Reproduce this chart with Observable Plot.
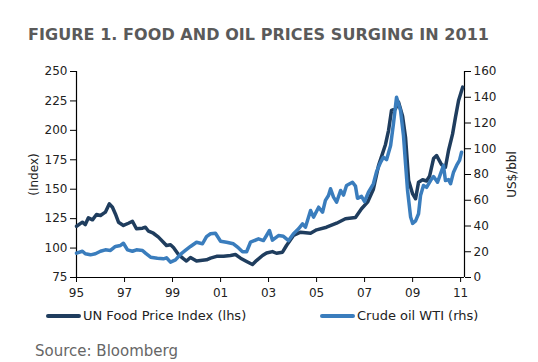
<!DOCTYPE html>
<html><head><meta charset="utf-8">
<script src="https://cdn.jsdelivr.net/npm/d3@7"></script>
<script src="https://cdn.jsdelivr.net/npm/@observablehq/plot@0.6"></script>
<style>
html,body{margin:0;padding:0;background:#fff;}
body{width:538px;height:362px;overflow:hidden;position:relative;font-family:"DejaVu Sans",Verdana,sans-serif;}
#title{position:absolute;left:28px;top:25px;line-height:20px;font-size:16px;font-weight:bold;color:#5a5a5a;white-space:nowrap;letter-spacing:0.05px;}
#chart{position:absolute;left:0;top:50px;}
.leg{position:absolute;top:307px;line-height:18px;font-size:13px;color:#222;white-space:nowrap;}
.sw{display:inline-block;width:35px;height:4px;border-radius:2px;vertical-align:middle;margin-right:2px;position:relative;top:-1px;}
#source{position:absolute;left:35px;top:342px;line-height:18px;font-size:15px;color:#666;white-space:nowrap;}
</style>
</head><body>
<div id="title">FIGURE 1. FOOD AND OIL PRICES SURGING IN 2011</div>
<div id="chart"></div>
<div class="leg" style="left:46px"><span class="sw" style="background:#1f3d5e"></span>UN Food Price Index (lhs)</div>
<div class="leg" style="left:320px"><span class="sw" style="background:#3a7dbd"></span>Crude oil WTI (rhs)</div>
<div id="source">Source: Bloomberg</div>
<script>
const foodDates = ["1995-01-01","1995-04-01","1995-05-15","1995-07-01","1995-09-01","1995-11-01","1996-01-01","1996-03-15","1996-05-15","1996-07-01","1996-08-15","1996-10-01","1996-12-15","1997-03-01","1997-05-01","1997-07-01","1997-10-01","1997-11-15","1998-01-01","1998-03-15","1998-06-01","1998-08-15","1998-10-01","1998-12-01","1999-01-15","1999-04-01","1999-06-15","1999-08-01","1999-10-01","2000-01-01","2000-03-01","2000-06-01","2000-08-01","2000-11-01","2001-02-15","2001-06-01","2001-08-15","2001-11-01","2002-02-01","2002-05-01","2002-07-01","2002-10-01","2002-12-01","2003-03-01","2003-05-01","2003-08-01","2003-10-01","2004-01-15","2004-05-01","2004-10-01","2005-01-01","2005-06-01","2005-11-01","2006-03-15","2006-08-15","2006-11-15","2007-02-15","2007-05-15","2007-08-01","2007-11-15","2008-01-01","2008-02-15","2008-04-15","2008-06-01","2008-08-01","2008-09-15","2008-11-01","2009-01-01","2009-02-15","2009-04-01","2009-06-01","2009-08-01","2009-09-15","2009-11-15","2010-01-01","2010-03-15","2010-05-15","2010-07-01","2010-09-01","2010-10-15","2010-12-01","2011-02-01"];
const foodIndex = [118.6,122,120,125.7,124,128.5,127.7,130.5,137.6,134.7,129,122,119.2,121.1,122.8,116.4,116.9,117.7,114.3,112.6,109.3,105,102.2,102.8,100.5,94.5,91,89,92,89,89.4,90,91.5,93,93,93.7,94.5,91.4,88.6,86,89.4,93.7,95.8,97,95.6,96.5,102.2,110.7,113.5,112.6,115.5,117.7,121.1,124.9,126,133.4,139,150,170,188,200,217,218.3,224,212,194,157.4,146,141.9,156,158,157,161,176,178.6,171,168.7,182.9,197,211.2,225.4,236.7];

const oilDates = ["1995-01-01","1995-04-01","1995-05-15","1995-08-01","1995-10-15","1996-01-01","1996-03-15","1996-06-01","1996-08-15","1996-11-01","1996-12-15","1997-02-15","1997-05-01","1997-07-01","1997-10-01","1997-11-15","1998-02-01","1998-05-15","1998-08-15","1998-10-01","1998-12-01","1999-02-15","1999-05-01","1999-07-15","1999-10-01","2000-01-01","2000-04-01","2000-06-01","2000-08-01","2000-10-15","2001-01-01","2001-04-01","2001-07-15","2001-10-01","2001-12-01","2002-02-01","2002-04-01","2002-08-01","2002-10-15","2002-12-01","2003-01-15","2003-03-01","2003-06-01","2003-08-15","2003-11-01","2004-01-15","2004-04-01","2004-06-01","2004-07-15","2004-10-01","2004-11-15","2005-02-01","2005-04-01","2005-05-15","2005-07-01","2005-08-01","2005-09-15","2005-11-01","2006-01-01","2006-02-15","2006-04-01","2006-07-01","2006-08-15","2006-09-15","2006-11-15","2007-01-01","2007-03-01","2007-05-15","2007-07-01","2007-09-01","2007-10-15","2007-12-01","2008-02-01","2008-03-15","2008-05-01","2008-07-01","2008-08-15","2008-09-15","2008-10-15","2008-12-01","2009-01-01","2009-02-15","2009-04-01","2009-05-01","2009-06-15","2009-08-01","2009-10-01","2009-11-15","2010-01-15","2010-03-01","2010-04-15","2010-05-15","2010-07-01","2010-08-01","2010-09-15","2010-11-01","2010-12-15","2011-01-15"];
const oilPrice = [18.9,20.4,18.4,17.6,18.4,20.4,21.5,21,24.1,24.9,26.6,21.5,20.4,21.5,21,18.9,15.8,15,14.5,15.3,11.9,13.7,17.9,21,24.1,27.4,26.2,31.8,34,34.4,28.2,27.4,26.2,23,20,20,27.4,30,28.7,32.6,36.5,29,32.6,32,28.7,34,37.8,41.7,39.1,52.1,46.9,54.6,50.7,59.9,63.7,68.9,62.4,58.5,67.6,64,71.5,74,71,61.5,63,59,66.3,72.8,82,89.5,93.4,91.5,102.5,119.4,140,129.7,110,88.3,68,47,42,44,49.5,63.7,71.5,70,75.3,78.4,74,80.5,87,75.3,76,72.8,81.8,87,90.9,97.3];

const xTickDates = ["1995-01-01","1997-01-01","1999-01-01","2001-01-01","2003-01-01","2005-01-01","2007-01-01","2009-01-01","2011-01-01"];
const xTickLabels = ["95","97","99","01","03","05","07","09","11"];
const leftTicks = [75,100,125,150,175,200,225,250];
const rightTicks = [0,20,40,60,80,100,120,140,160];

const parse = d3.utcParse("%Y-%m-%d");
const toLeft = p => 75 + p * 175 / 160;
const food = foodDates.map((d, i) => ({date: parse(d), value: foodIndex[i]}));
const oil = oilDates.map((d, i) => ({date: parse(d), value: toLeft(oilPrice[i])}));
const xTicks = xTickDates.map(parse);
const xLabel = new Map(xTicks.map((d, i) => [+d, xTickLabels[i]]));
const rightLabel = new Map(rightTicks.map(p => [toLeft(p), String(p)]));
const x0 = parse("1995-01-01"), x1 = parse("2011-03-01");

const chart = Plot.plot({
  width: 538, height: 255,
  marginTop: 21, marginBottom: 28, marginLeft: 76, marginRight: 74,
  style: {fontFamily: "DejaVu Sans, Verdana, sans-serif", fontSize: "12px", color: "#222", background: "transparent", overflow: "visible"},
  x: {type: "utc", domain: [x0, x1]},
  y: {domain: [75, 250]},
  marks: [
    Plot.axisX({ticks: xTicks, tickFormat: d => xLabel.get(+d), tickSize: 5, tickPadding: 6, label: null, stroke: "#000", fill: "#222"}),
    Plot.axisY({anchor: "left", ticks: leftTicks, tickSize: 6, tickPadding: 3, label: "(Index)", labelAnchor: "center", labelOffset: 47, labelArrow: false, stroke: "#000", fill: "#222"}),
    Plot.axisY({anchor: "right", ticks: rightTicks.map(toLeft), tickFormat: v => rightLabel.get(v), tickSize: 6, tickPadding: 3, label: "US$/bbl", labelAnchor: "center", labelOffset: 51, labelArrow: false, stroke: "#000", fill: "#222"}),
    Plot.ruleX([x0, x1], {stroke: "#000", strokeWidth: 1.2}),
    Plot.ruleY([75], {stroke: "#000", strokeWidth: 1.2}),
    Plot.line(food, {x: "date", y: "value", stroke: "#1f3d5e", strokeWidth: 3.5, strokeLinejoin: "round", strokeLinecap: "round"}),
    Plot.line(oil, {x: "date", y: "value", stroke: "#3a7dbd", strokeWidth: 3.5, strokeLinejoin: "round", strokeLinecap: "round"})
  ]
});
document.getElementById("chart").appendChild(chart);
</script>
</body></html>
